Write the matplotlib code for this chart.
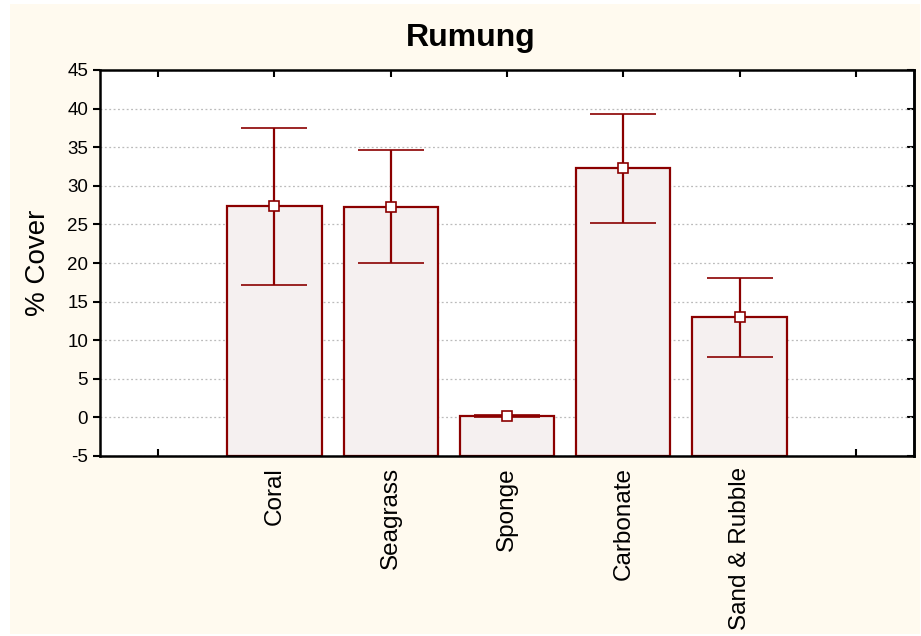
import matplotlib.pyplot as plt
from matplotlib.patches import Rectangle

plt.rcParams['font.family'] = ['Liberation Sans', 'DejaVu Sans']

# mean % cover per habitat with error half-widths
categories = ['', 'Coral', 'Seagrass', 'Sponge', 'Carbonate', 'Sand & Rubble', '']
means = [27.35, 27.3, 0.15, 32.25, 12.95]
errors = [10.15, 7.3, 0.1, 7.05, 5.15]
yticks = [-5, 0, 5, 10, 15, 20, 25, 30, 35, 40, 45]

dark_red = '#8B0000'

fig = plt.figure(figsize=(9.21, 6.36), dpi=100, facecolor='white')
fig.patches.append(Rectangle((10 / 921, 2 / 636), 910 / 921, 630 / 636,
                             transform=fig.transFigure, facecolor='#FFFAEF',
                             edgecolor='none', zorder=-1))
ax = fig.add_axes([100 / 921, 1 - 456 / 636, 814 / 921, 386 / 636])

pos = list(range(1, 6))
ax.bar(pos, [m + 5 for m in means], bottom=-5, width=0.81,
       color='#F5F0F0', edgecolor=dark_red, linewidth=1.6, zorder=2)
ax.errorbar(pos, means, yerr=errors, fmt='s', color=dark_red, ecolor=dark_red,
            elinewidth=1.6, capsize=24, capthick=2, markersize=6.5,
            markerfacecolor='white', markeredgecolor=dark_red,
            markeredgewidth=1.2, zorder=3)

ax.set_xlim(-0.5, 6.5)
ax.set_ylim(-5, 45)
ax.set_xticks(range(len(categories)))
ax.set_xticklabels(categories, rotation=90, fontsize=17.5)
ax.set_yticks(yticks)
ax.set_yticklabels([str(t) for t in yticks], fontsize=13.5)
ax.tick_params(axis='x', direction='in', top=True, length=5, width=1.5, pad=8)
ax.tick_params(axis='y', direction='out', length=5, width=1.5, right=False)

ax2 = ax.secondary_yaxis('right')
ax2.set_yticks(yticks)
ax2.tick_params(direction='in', length=5, width=1.5, labelright=False)

ax.grid(axis='y', linestyle=(0, (1.5, 2)), color='#BBBBBB', linewidth=0.9, zorder=0)
ax.set_axisbelow(True)
for s in ax.spines.values():
    s.set_linewidth(1.8)
ax2.spines['right'].set_linewidth(1.8)

ax.set_ylabel('% Cover', fontsize=20, labelpad=12)
fig.text(471 / 921, 1 - 38 / 636, 'Rumung', fontsize=23, fontweight='bold',
         ha='center', va='center')

fig.savefig('out.png', dpi=100, facecolor=fig.get_facecolor())
